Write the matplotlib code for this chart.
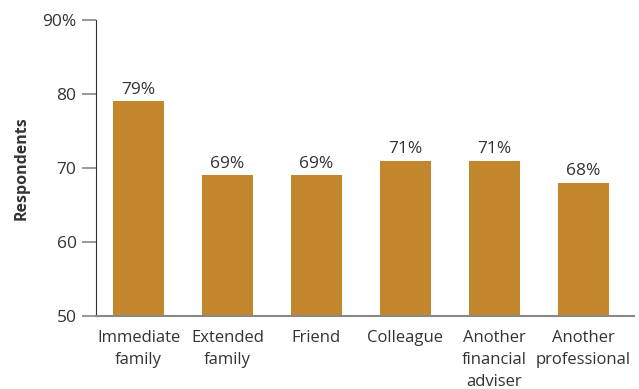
import matplotlib.pyplot as plt

# who respondents would recommend their adviser to
categories = ['Immediate\nfamily', 'Extended\nfamily', 'Friend', 'Colleague',
              'Another\nfinancial\nadviser', 'Another\nprofessional']
values = [79, 69, 69, 71, 71, 68]
yticks = [50, 60, 70, 80, 90]
ytick_labels = ['50', '60', '70', '80', '90%']

bar_color = '#C2872D'
text_color = '#333333'
plt.rcParams['font.family'] = ['Open Sans', 'DejaVu Sans']

fig = plt.figure(figsize=(6.39, 3.89), dpi=100)
ax = fig.add_axes([0.1502, 0.1877, 0.8420, 0.7609])

x = range(len(categories))
ax.bar(x, values, width=0.57, color=bar_color, bottom=0, zorder=2)

for xi, v in zip(x, values):
    ax.text(xi, v + 0.5, f'{v}%', ha='center', va='bottom',
            fontsize=12.5, color=text_color)

ax.set_ylim(50, 90)
ax.set_xlim(-0.478, 5.57)
ax.set_yticks(yticks)
ax.set_yticklabels(ytick_labels, fontsize=12.5, color=text_color)
ax.set_xticks(list(x))
ax.set_xticklabels(categories, fontsize=12, color=text_color, linespacing=1.5)
ax.tick_params(axis='x', length=0, pad=10)
ax.tick_params(axis='y', length=10, width=1.2, color='#888888', pad=4)

ax.spines['top'].set_visible(False)
ax.spines['right'].set_visible(False)
ax.spines['left'].set_color(text_color)
ax.spines['bottom'].set_color('#888888')
ax.spines['bottom'].set_linewidth(1.5)

ax.set_ylabel('Respondents', fontsize=11.5, fontweight='bold', color=text_color, labelpad=9)

fig.savefig('out.png', dpi=100)
